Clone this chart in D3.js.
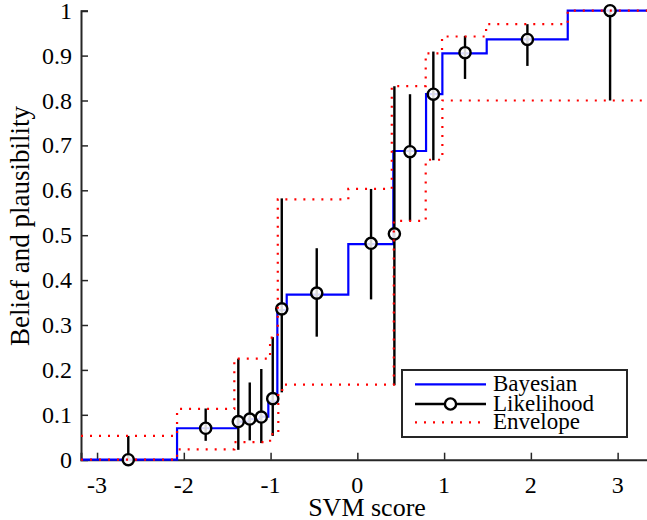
<!DOCTYPE html>
<html><head><meta charset="utf-8">
<script src="https://cdn.jsdelivr.net/npm/d3@7"></script>
<style>html,body{margin:0;padding:0;background:#fff;}svg{display:block;}</style>
</head><body>
<script>
// ---- data ----
const xTicks = [-3, -2, -1, 0, 1, 2, 3];
const yTicks = [0, 0.1, 0.2, 0.3, 0.4, 0.5, 0.6, 0.7, 0.8, 0.9, 1];
const yTickLabels = ["0", "0.1", "0.2", "0.3", "0.4", "0.5", "0.6", "0.7", "0.8", "0.9", "1"];

// Likelihood estimates with intervals
const likX  = [-2.64, -1.748, -1.372, -1.240, -1.107, -0.975, -0.871, -0.468, 0.158, 0.427, 0.607, 0.876, 1.241, 1.960, 2.913];
const likY  = [0, 0.070, 0.085, 0.0905, 0.095, 0.136, 0.336, 0.371, 0.482, 0.503, 0.686, 0.814, 0.9065, 0.936, 1.0];
const likLo = [0, 0.042, 0.022, 0.043, 0.037, 0.053, 0.15, 0.274, 0.357, 0.166, 0.532, 0.667, 0.848, 0.877, 0.80];
const likHi = [0.053, 0.114, 0.225, 0.172, 0.202, 0.273, 0.582, 0.471, 0.603, 0.832, 0.814, 0.909, 0.944, 0.970, 1.0];

// Bayesian step function: breakpoints and levels (level[0] before first break)
const bayesBreaks = [-2.078, -1.38, -1.25, -1.12, -1.026, -0.922, -0.814, -0.104, 0.415, 0.792, 0.98, 1.491, 2.425];
const bayesLevels = [0, 0.070, 0.085, 0.0905, 0.0958, 0.13, 0.333, 0.3675, 0.48, 0.6875, 0.814, 0.905, 0.936, 1.0];

// Envelope (upper and lower step functions)
const upBreaks = [-2.078, -1.418, -1.006, -0.917, -0.104, 0.397, 0.788, 0.976, 1.484, 2.425];
const upLevels = [0.053, 0.113, 0.225, 0.272, 0.58, 0.603, 0.832, 0.905, 0.9425, 0.970, 1.0];
const loBreaks = [-2.078, -1.418, -1.006, -0.911, -0.866, 0.42, 0.788, 0.98];
const loLevels = [0, 0.023, 0.039, 0.057, 0.15, 0.167, 0.532, 0.668, 0.80];

const legendLabels = ["Bayesian", "Likelihood", "Envelope"];

// ---- layout ----
const W = 647, H = 520;
const xDomain = [-3.185, 3.35];
const FONT = "'Liberation Serif', 'Times New Roman', serif";

const svg = d3.select("body").append("svg").attr("width", W).attr("height", H);
const x = d3.scaleLinear().domain(xDomain).range([81, 648]);
const y = d3.scaleLinear().domain([0, 1]).range([459.7, 10.7]);

function stepPoints(breaks, levels) {
  const pts = [[xDomain[0], levels[0]]];
  breaks.forEach((b, i) => pts.push([b, levels[i + 1]]));
  pts.push([xDomain[1], levels[levels.length - 1]]);
  return pts;
}
const stepLine = d3.line().x(d => x(d[0])).y(d => y(d[1])).curve(d3.curveStepAfter);

// Axes
const axisColor = "#262626";
const gx = svg.append("g").attr("transform", `translate(0,${y(0)})`)
  .call(d3.axisTop(x).tickValues(xTicks).tickSize(7).tickFormat(""));
const gy = svg.append("g").attr("transform", `translate(${x(xDomain[0])},0)`)
  .call(d3.axisRight(y).tickValues(yTicks).tickSize(7).tickFormat(""));
[gx, gy].forEach(g => {
  g.select(".domain").attr("stroke", axisColor).attr("stroke-width", 2);
  g.selectAll(".tick line").attr("stroke", axisColor).attr("stroke-width", 1.5);
});

// tick labels
svg.append("g").selectAll("text").data(xTicks).join("text")
  .attr("x", d => x(d)).attr("y", 493)
  .attr("text-anchor", "middle")
  .attr("font-family", FONT).attr("font-size", 24).attr("fill", "#000")
  .text(d => d);
svg.append("g").selectAll("text").data(yTicks).join("text")
  .attr("x", 72).attr("y", d => y(d) + 8)
  .attr("text-anchor", "end")
  .attr("font-family", FONT).attr("font-size", 24).attr("fill", "#000")
  .text((d, i) => yTickLabels[i]);

// axis labels
svg.append("text").attr("x", 367).attr("y", 516).attr("text-anchor", "middle")
  .attr("font-family", FONT).attr("font-size", 26).attr("fill", "#000").text("SVM score");
svg.append("text").attr("transform", "translate(29,226) rotate(-90)").attr("text-anchor", "middle")
  .attr("font-family", FONT).attr("font-size", 27).attr("fill", "#000").text("Belief and plausibility");

// Bayesian
svg.append("path").datum(stepPoints(bayesBreaks, bayesLevels))
  .attr("d", stepLine).attr("fill", "none").attr("stroke", "#0000ff").attr("stroke-width", 2.2);

// Likelihood error bars + markers
const lik = likX.map((v, i) => ({x: v, y: likY[i], lo: likLo[i], hi: likHi[i]}));
svg.append("g").selectAll("line").data(lik).join("line")
  .attr("x1", d => x(d.x)).attr("x2", d => x(d.x))
  .attr("y1", d => y(d.lo)).attr("y2", d => y(d.hi))
  .attr("stroke", "#000").attr("stroke-width", 2.4);
svg.append("g").selectAll("circle").data(lik).join("circle")
  .attr("cx", d => x(d.x)).attr("cy", d => y(d.y)).attr("r", 5.6)
  .attr("fill", "#fff").attr("fill-opacity", 0.85)
  .attr("stroke", "#000").attr("stroke-width", 2.4);

// Envelope
const redDash = "2,7";
[[upBreaks, upLevels], [loBreaks, loLevels]].forEach(([b, l]) => {
  svg.append("path").datum(stepPoints(b, l))
    .attr("d", stepLine).attr("fill", "none").attr("stroke", "#ff0000")
    .attr("stroke-width", 2.2).attr("stroke-dasharray", redDash);
});

// Legend
const lg = svg.append("g");
lg.append("rect").attr("x", 402).attr("y", 370).attr("width", 225).attr("height", 67)
  .attr("fill", "#fff").attr("stroke", axisColor).attr("stroke-width", 2);
const rowsY = [384.3, 404, 422.3];
const lx1 = 415, lx2 = 486;
lg.append("line").attr("x1", lx1).attr("x2", lx2).attr("y1", rowsY[0]).attr("y2", rowsY[0])
  .attr("stroke", "#0000ff").attr("stroke-width", 2.2);
lg.append("line").attr("x1", lx1).attr("x2", lx2).attr("y1", rowsY[1]).attr("y2", rowsY[1])
  .attr("stroke", "#000").attr("stroke-width", 2.4);
lg.append("circle").attr("cx", (lx1 + lx2) / 2).attr("cy", rowsY[1]).attr("r", 5.6)
  .attr("fill", "#fff").attr("stroke", "#000").attr("stroke-width", 2.4);
lg.append("line").attr("x1", lx1).attr("x2", lx2).attr("y1", rowsY[2]).attr("y2", rowsY[2])
  .attr("stroke", "#ff0000").attr("stroke-width", 2.2).attr("stroke-dasharray", redDash);
lg.selectAll("text").data(legendLabels).join("text")
  .attr("x", 493).attr("y", (d, i) => rowsY[i] + 7)
  .attr("font-family", FONT).attr("font-size", 23).attr("fill", "#000")
  .text(d => d);
</script>
</body></html>
